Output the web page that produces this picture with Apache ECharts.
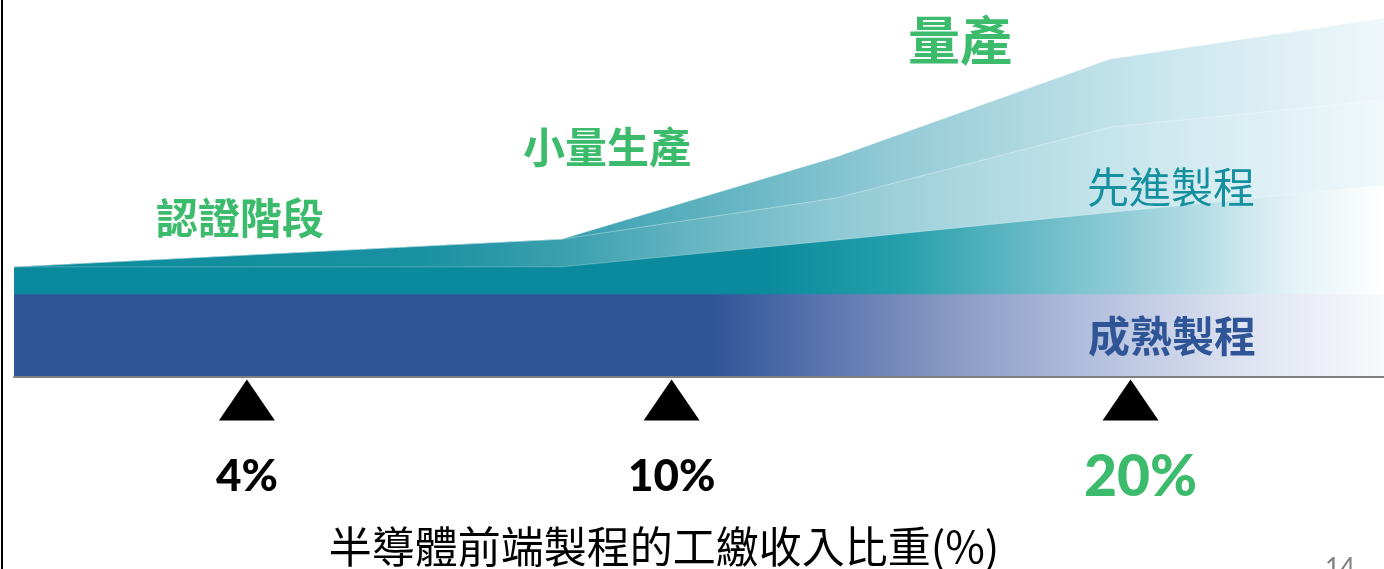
<!DOCTYPE html>
<html>
<head>
<meta charset="utf-8">
<script src="https://cdn.jsdelivr.net/npm/echarts@6/dist/echarts.min.js"></script>
<style>
html,body{margin:0;padding:0;background:#fff;}
#chart{width:1384px;height:569px;}
</style>
</head>
<body>
<div id="chart"></div>
<script>
// ---- data ----
const xStops = [0, 40, 60, 80, 100];                 // horizontal position along the stage axis
const matureValues = [23, 23, 23, 23, 23];           // 成熟製程 band height
const advancedBase = [30.6, 30.6, 38.0, 45.7, 53.3]; // lower advanced layer top
const advancedMid = [30.6, 38.3, 49.7, 69.4, 76.9];  // middle advanced layer top
const advancedTop = [30.6, 38.3, 61.1, 88.3, 99.7];  // upper advanced layer top
const tickLabels = ['4%', '10%', '20%'];
const tickPositions = [17, 48, 81.5];
const highlightTick = '20%';
const stageLabels = ['認證階段', '小量生產', '量產'];
const processLabels = ['先進製程', '成熟製程'];
const axisTitle = '半導體前端製程的工繳收入比重(%)';
const pageNumber = '14';

const GREEN = '#3DBB6C';
const BLUE = '#2F5597';
const TEAL = '#14909F';
const CJK = '"Noto Sans CJK TC", "Noto Sans CJK SC", sans-serif';
const LAT = 'Lato, "Noto Sans", sans-serif';

const pts = arr => xStops.map((x, i) => [x, arr[i]]);
const grad = stops => new echarts.graphic.LinearGradient(0, 0, 1, 0,
  stops.map(s => ({offset: s[0], color: s[1]})));

const chart = echarts.init(document.getElementById('chart'), null, {renderer: 'canvas'});

const option = {
  animation: false,
  backgroundColor: '#ffffff',
  grid: [
    {left: 14, right: 0, top: 17, height: 360},
    {left: 14, right: 0, top: 377, height: 192}
  ],
  xAxis: [
    {gridIndex: 0, type: 'value', min: 0, max: 100, z: 10,
      axisLine: {show: true, onZero: false, lineStyle: {color: '#808080', width: 2}},
      axisTick: {show: false}, axisLabel: {show: false}, splitLine: {show: false}},
    {gridIndex: 1, type: 'value', min: 0, max: 100, show: false, splitLine: {show: false}}
  ],
  yAxis: [
    {gridIndex: 0, type: 'value', min: 0, max: 100, show: false, splitLine: {show: false}},
    {gridIndex: 1, type: 'value', min: 0, max: 100, show: false, splitLine: {show: false}}
  ],
  series: [
    {
      name: 'upper', type: 'line', data: pts(advancedTop), symbol: 'none',
      lineStyle: {width: 1, color: 'rgba(255,255,255,0.35)'},
      areaStyle: {opacity: 1, color: grad([[0, '#0A8A9C'], [0.38, '#2a98a9'], [0.45, '#4aa8b7'], [0.55, '#70bac7'],
        [0.65, '#95ccd7'], [0.75, '#b3dae3'], [0.85, '#cde8ef'], [0.93, '#e0f0f5'], [1, '#f0f7fa']])}
    },
    {
      name: 'middle', type: 'line', data: pts(advancedMid), symbol: 'none',
      lineStyle: {width: 1, color: 'rgba(255,255,255,0.35)'},
      areaStyle: {opacity: 1, color: grad([[0, '#0A8A9C'], [0.3, '#1a91a2'], [0.4, '#3a9fae'], [0.5, '#68b6c3'],
        [0.6, '#8fc9d4'], [0.7, '#add8e1'], [0.8, '#c6e4ec'], [0.9, '#dbeff4'], [1, '#f0f8fa']])}
    },
    {
      name: 'lower', type: 'line', data: pts(advancedBase), symbol: 'none',
      lineStyle: {width: 1, color: 'rgba(255,255,255,0.25)'},
      areaStyle: {opacity: 1, color: grad([[0, '#0A8A9C'], [0.55, '#0A8A9C'], [0.65, '#27a0ad'], [0.75, '#6cbcc7'],
        [0.85, '#aad8e2'], [0.93, '#e2f1f5'], [1, '#ffffff']])}
    },
    {
      name: '成熟製程', type: 'line', data: pts(matureValues), symbol: 'none',
      lineStyle: {width: 0},
      areaStyle: {opacity: 1, color: grad([[0, BLUE], [0.51, BLUE], [0.6, '#6078b0'], [0.7, '#8fa0c8'],
        [0.8, '#b8c4e0'], [0.9, '#dfe4f1'], [1, '#f8f9fc']])}
    },
    {
      name: 'ticks', type: 'scatter', xAxisIndex: 1, yAxisIndex: 1,
      symbol: 'triangle', symbolSize: [56, 41],
      itemStyle: {color: '#000000', opacity: 1},
      label: {show: true, position: 'bottom', distance: 34, fontFamily: LAT, fontWeight: 900,
        fontSize: 44, color: '#000000', opacity: 1, formatter: p => p.name},
      data: tickLabels.map((t, i) => ({
        name: t, value: [tickPositions[i], 88],
        label: t === highlightTick ? {fontSize: 57, color: GREEN, distance: 29, offset: [10, 0]} : {}
      }))
    }
  ],
  graphic: [
    {type: 'line', shape: {x1: 2, y1: 0, x2: 2, y2: 569}, style: {stroke: '#000', lineWidth: 2}, z: 100},
    {type: 'text', x: 240, y: 218, style: {text: stageLabels[0], fill: GREEN, font: 'bold 42px ' + CJK, textAlign: 'center', textVerticalAlign: 'middle'}},
    {type: 'text', x: 607, y: 147, style: {text: stageLabels[1], fill: GREEN, font: 'bold 42px ' + CJK, textAlign: 'center', textVerticalAlign: 'middle'}},
    {type: 'text', x: 960, y: 40, style: {text: stageLabels[2], fill: GREEN, font: 'bold 52px ' + CJK, textAlign: 'center', textVerticalAlign: 'middle'}},
    {type: 'text', x: 1171, y: 187, z: 50, style: {text: processLabels[0], fill: TEAL, font: '42px ' + CJK, textAlign: 'center', textVerticalAlign: 'middle'}},
    {type: 'text', x: 1172, y: 336, z: 50, style: {text: processLabels[1], fill: BLUE, font: 'bold 42px ' + CJK, textAlign: 'center', textVerticalAlign: 'middle'}},
    {type: 'text', x: 664, y: 547, style: {text: axisTitle, fill: '#000', font: '43px ' + CJK, textAlign: 'center', textVerticalAlign: 'middle'}},
    {type: 'text', x: 1340, y: 556, style: {text: pageNumber, fill: '#808080', font: '26px ' + LAT, textAlign: 'center', textVerticalAlign: 'top'}}
  ]
};
chart.setOption(option);
</script>
</body>
</html>
